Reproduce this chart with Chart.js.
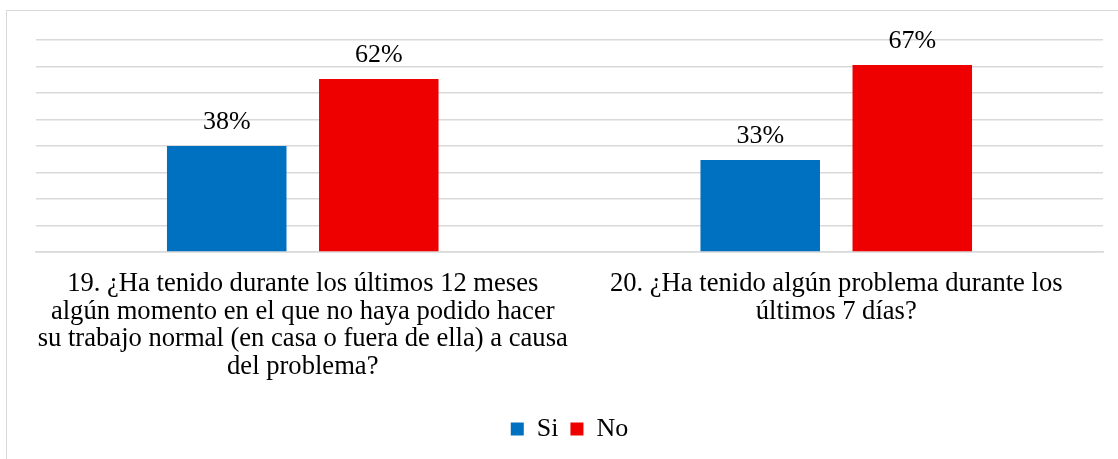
<!DOCTYPE html>
<html>
<head>
<meta charset="utf-8">
<script src="https://cdn.jsdelivr.net/npm/chart.js@4/dist/chart.umd.min.js"></script>
<style>
  html, body { margin: 0; padding: 0; background: #fff; overflow: hidden; }
  .marco {
    position: absolute; left: 6px; top: 10px; width: 1200px; height: 600px;
    border: 1.5px solid #d9d9d9;
  }
  .lienzo { position: absolute; left: 0; top: 0; width: 1118px; height: 459px; }
</style>
</head>
<body>
<div class="marco"></div>
<div class="lienzo"><canvas id="grafico" width="1118" height="459"></canvas></div>
<script>
// preguntas (una línea por elemento, como se reparten bajo cada grupo)
const preguntas = [
  ["19. ¿Ha tenido durante los últimos 12 meses",
   "algún momento en el que no haya podido hacer",
   "su trabajo normal (en casa o fuera de ella) a causa",
   "del problema?"],
  ["20. ¿Ha tenido algún problema durante los",
   "últimos 7 días?"]
];

// porcentajes de respuesta
const valoresSi = [38, 33];
const valoresNo = [62, 67];

// escala vertical
const ejeMax = 76;
const ejePaso = 9.5;

const fuente = "'Liberation Serif', 'Times New Roman', serif";

// etiquetas de porcentaje sobre cada barra
const etiquetasBarras = {
  id: "etiquetasBarras",
  afterDatasetsDraw(chart) {
    const ctx = chart.ctx;
    ctx.save();
    ctx.font = "26px " + fuente;
    ctx.fillStyle = "#000";
    ctx.textAlign = "center";
    ctx.textBaseline = "alphabetic";
    chart.data.datasets.forEach((ds, i) => {
      chart.getDatasetMeta(i).data.forEach((bar, j) => {
        ctx.fillText(ds.data[j] + "%", bar.x, bar.y - 17);
      });
    });
    ctx.restore();
  }
};

new Chart(document.getElementById("grafico"), {
  type: "bar",
  data: {
    labels: preguntas,
    datasets: [
      { label: "Si", data: valoresSi, backgroundColor: "#0070C0" },
      { label: "No", data: valoresNo, backgroundColor: "#EE0000" }
    ]
  },
  options: {
    responsive: false,
    animation: false,
    layout: { padding: { left: 36, right: 15, top: 40, bottom: 7 } },
    datasets: { bar: { categoryPercentage: 0.57, barPercentage: 0.786 } },
    plugins: {
      tooltip: { enabled: false },
      legend: {
        position: "bottom",
        labels: {
          color: "#000",
          font: { family: fuente, size: 26 },
          boxWidth: 13,
          boxHeight: 13,
          padding: 12
        }
      }
    },
    scales: {
      x: {
        grid: { display: false },
        border: { color: "#d9d9d9", width: 1.5 },
        ticks: {
          color: "#000",
          font: { family: fuente, size: 26.6, lineHeight: 1.034 },
          maxRotation: 0,
          autoSkip: false,
          padding: 10.5
        },
        // deja aire entre las preguntas y la leyenda
        afterFit(scale) {
          scale.height += 13;
        }
      },
      y: {
        min: 0,
        max: ejeMax,
        ticks: { stepSize: ejePaso, display: false },
        grid: { color: "#d9d9d9", lineWidth: 1.5, drawTicks: false },
        border: { display: false }
      }
    }
  },
  plugins: [etiquetasBarras]
});
</script>
</body>
</html>
